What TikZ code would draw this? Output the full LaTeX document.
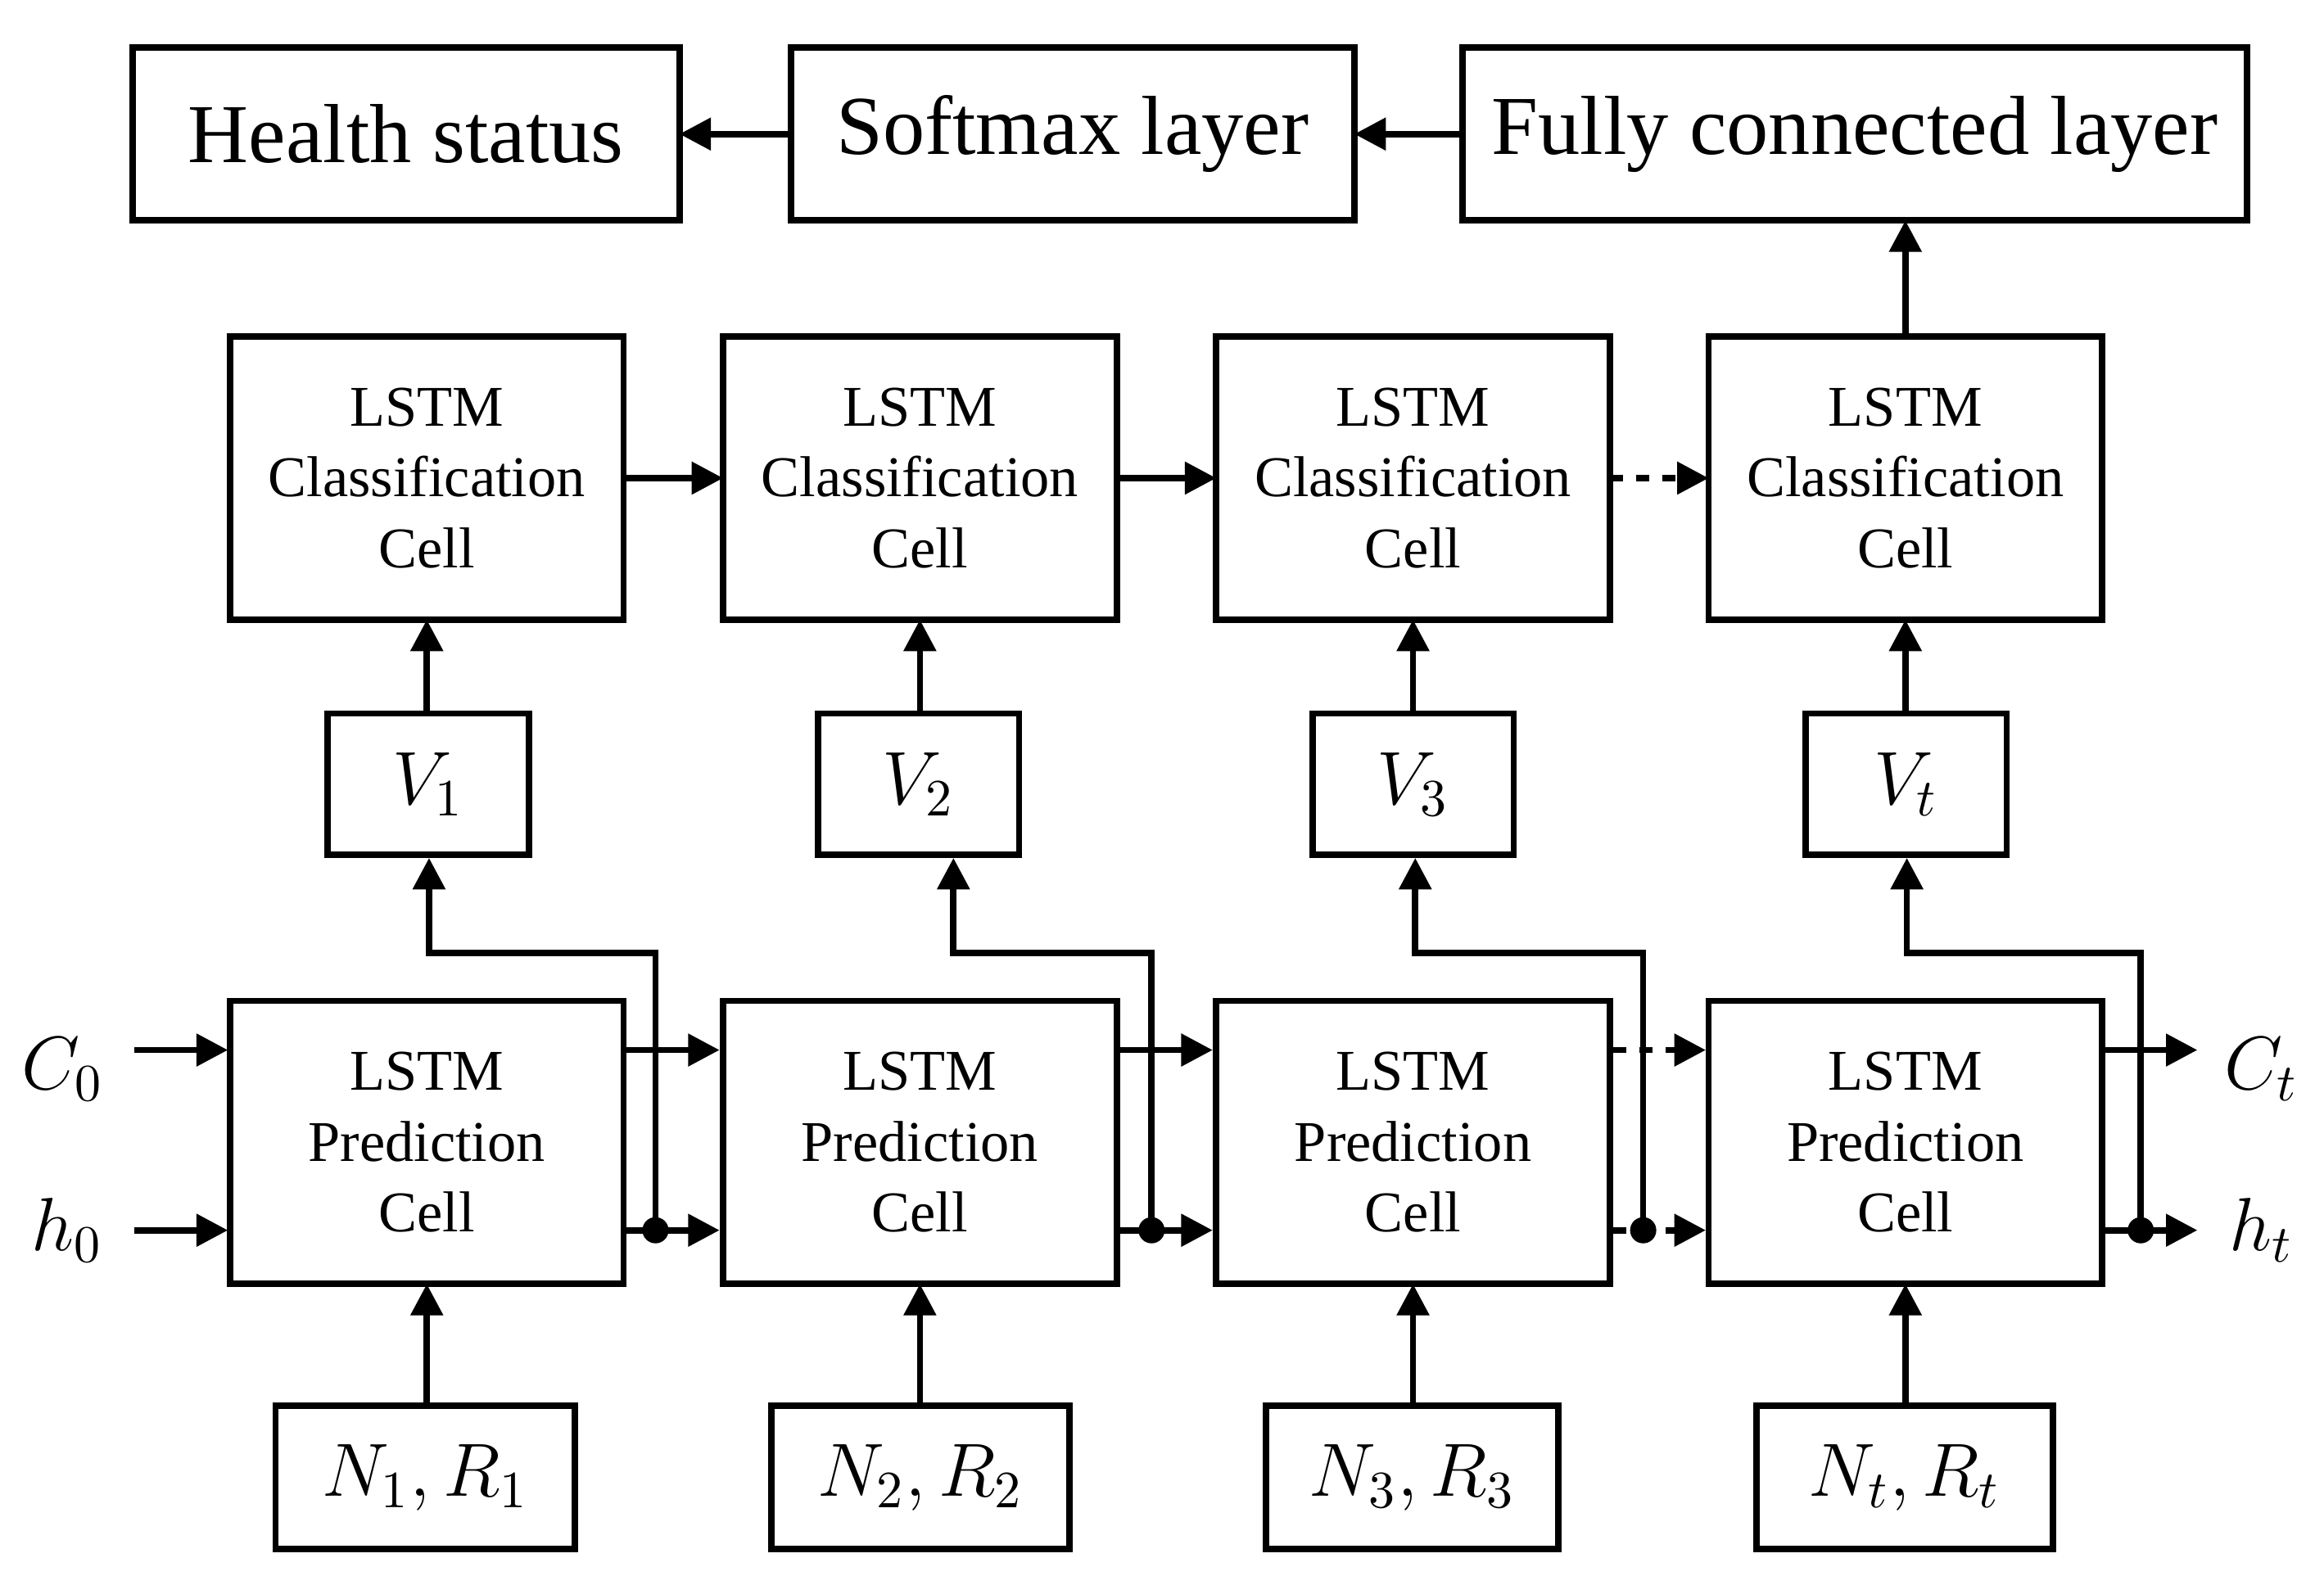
\documentclass[tikz,border=0pt]{standalone}
\usepackage{fontspec}
\setmainfont{Liberation Serif}
\usetikzlibrary{arrows.meta}
\begin{document}
\begin{tikzpicture}[x=0.01cm,y=-0.01cm,
  box/.style={draw,line width=1.2pt,inner sep=0pt,outer sep=0pt,align=center},
  ar/.style={line width=1.2pt,-{Triangle[length=6pt,width=6pt]}},
  dar/.style={ar,dash pattern=on 2.5pt off 2.5pt},
  dot/.style={circle,fill,inner sep=0pt,minimum size=5pt},
  big/.style={font=\fontsize{16}{19}\selectfont},
  mid/.style={font=\fontsize{11}{13.5}\selectfont},
  mth/.style={font=\fontsize{14}{16}\selectfont}]
\useasboundingbox (0,0) rectangle (1560,1058);
% top
\node[box,big,minimum width=3.67cm,minimum height=1.16cm] (hs) at (272.5,90) {Health status};
\node[box,big,minimum width=3.78cm,minimum height=1.16cm] (sm) at (720,90) {Softmax layer};
\node[box,big,minimum width=5.26cm,minimum height=1.16cm] (fc) at (1245,90) {Fully connected layer};
\draw[ar] (sm.west) -- (hs.east);
\draw[ar] (fc.west) -- (sm.east);
% columns
\foreach \i/\cx/\vx/\va/\nx/\nw/\lab/\nl in {1/286.5/287.5/288/285.5/2.01/1/{N_1,R_1},2/617.5/616.5/640/618/2.0/2/{N_2,R_2},3/948.5/948.5/950/948/1.96/3/{N_3,R_3},4/1279/1279.5/1280/1278.5/1.99/t/{N_t,R_t}}{
  \node[box,mid,minimum width=2.64cm,minimum height=1.9cm] (c\i) at (\cx,321) {LSTM\\Classification\\Cell};
  \node[box,mid,minimum width=2.64cm,minimum height=1.9cm] (p\i) at (\cx,767) {LSTM\\Prediction\\Cell};
  \node[box,mth,minimum width=1.35cm,minimum height=0.95cm] (v\i) at (\vx,526.5) {$V_{\lab}$};
  \node[box,mth,minimum width=\nw cm,minimum height=0.96cm] (n\i) at (\nx,992) {$\nl$};
  \draw[ar] (v\i.north -| c\i) -- (c\i.south);
  \draw[ar] (n\i.north -| p\i) -- (p\i.south);
  \coordinate (vb\i) at (\va,576);
}
\draw[ar] (c1.east) -- (c2.west);
\draw[ar] (c2.east) -- (c3.west);
\draw[dar] (c3.east) -- (c4.west);
\draw[ar] (c4.north) -- (fc.south -| c4);
% inputs
\node[mth] (C0) at (42,718) {$C_0$};
\node[mth] (h0) at (45,826) {$h_0$};
\node[mth] (Ct) at (1518,718) {$C_t$};
\node[mth] (ht) at (1518,826) {$h_t$};
\draw[ar] (90,705) -- (153,705);
\draw[ar] (90,826) -- (153,826);
\draw[ar] (1413,705) -- (1475,705);
\draw[ar] (1413,826) -- (1475,826);
\draw[ar] (420,705) -- (483,705);
\draw[ar] (420,826) -- (483,826);
\draw[ar] (752,705) -- (814,705);
\draw[ar] (752,826) -- (814,826);
\draw[dar] (1083,705) -- (1145,705);
\draw[dar] (1083,826) -- (1145,826);
% feedback
\foreach \i/\dx in {1/440,2/773,3/1103,4/1437}{
  \node[dot] (d\i) at (\dx,826) {};
  \draw[ar] (d\i.center) -- (\dx,640) -| (vb\i);
}
\end{tikzpicture}
\end{document}
